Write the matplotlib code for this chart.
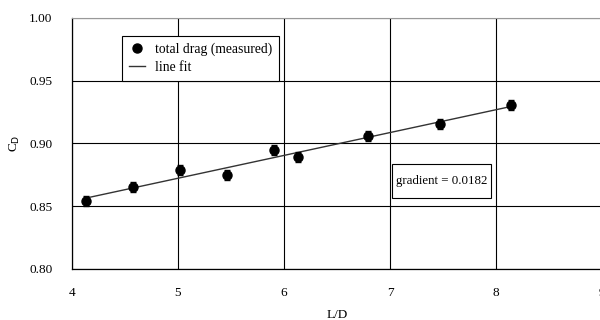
import matplotlib
matplotlib.use("Agg")
import matplotlib.pyplot as plt
from matplotlib.lines import Line2D
from matplotlib.patches import Rectangle
import numpy as np

plt.rcParams['font.family'] = ['Liberation Serif', 'DejaVu Serif']

ld = [4.13, 4.58, 5.02, 5.46, 5.91, 6.13, 6.79, 7.47, 8.14]
cd = [0.854, 0.865, 0.879, 0.875, 0.895, 0.889, 0.906, 0.9155, 0.931]
cd_err = [0.004, 0.004, 0.004, 0.004, 0.004, 0.004, 0.004, 0.004, 0.004]
fit_slope = 0.0182
fit_intercept = 0.7813
fit_x = [4.13, 8.14]
xticks = [4, 5, 6, 7, 8, 9]
yticks = [0.80, 0.85, 0.90, 0.95, 1.00]

fig = plt.figure(figsize=(6, 3.2), dpi=100)
ax = fig.add_axes([0.12, 0.1594, 0.8833, 0.7844])

fx = np.array(fit_x)
ax.plot(fx, fit_slope * fx + fit_intercept, color='#333333', lw=1.0, zorder=3)
ax.errorbar(ld, cd, yerr=cd_err, fmt='o', color='black', ms=6.5, capsize=2.5,
            elinewidth=1.0, capthick=1.0, zorder=4)

ax.set_xlim(4, 9)
ax.set_ylim(0.80, 1.00)
ax.set_xticks(xticks)
ax.set_yticks(yticks)
ax.set_yticklabels([f"{v:.2f}" for v in yticks])
ax.tick_params(length=0, labelsize=9.5)
ax.tick_params(axis='x', pad=13)
ax.tick_params(axis='y', pad=14)
ax.grid(True, color='black', lw=0.8)
ax.set_axisbelow(True)
for s in ['left', 'bottom']:
    ax.spines[s].set_color('black')
    ax.spines[s].set_linewidth(0.9)
ax.spines['right'].set_visible(False)
ax.spines['top'].set_color('#999999')
ax.spines['top'].set_linestyle((0, (1, 1)))
ax.spines['top'].set_linewidth(0.8)

ax.set_xlabel('L/D', fontsize=9.5, labelpad=7)
ax.set_ylabel('C$_\\mathrm{D}$', fontsize=9.5, labelpad=5)

handles = [Line2D([], [], marker='o', color='black', ls='none', ms=6.5),
           Line2D([], [], color='#333333', lw=1.0)]
labels = ['total drag (measured)', 'line fit']
leg = ax.legend(handles, labels, loc='upper left',
                bbox_to_anchor=(0.094, 0.928), fontsize=9.8, frameon=True,
                fancybox=False, edgecolor='black', framealpha=1,
                handlelength=1.2, borderpad=0.5, labelspacing=0.35,
                handletextpad=0.75, borderaxespad=0)
leg.get_frame().set_linewidth(0.8)

ax.add_patch(Rectangle((0.604, 0.283), 0.187, 0.135, transform=ax.transAxes,
                       fc='white', ec='black', lw=0.8, zorder=5))
ax.text(0.604 + 0.187 / 2, 0.283 + 0.135 / 2, 'gradient = 0.0182',
        transform=ax.transAxes, fontsize=9.3, ha='center', va='center', zorder=6)

fig.savefig('out.png', dpi=100)
